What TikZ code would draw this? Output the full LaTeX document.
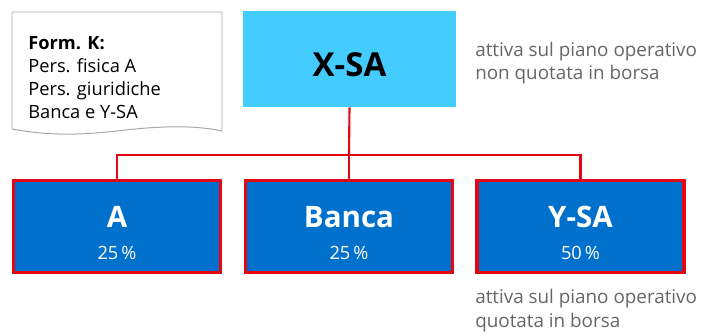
\documentclass[tikz,border=0pt]{standalone}
\usepackage{fontspec}
\setmainfont{Open Sans}
\usepackage{tikz}

\definecolor{boxblue}{HTML}{0070CD}
\definecolor{boxred}{HTML}{E30613}
\definecolor{topcyan}{HTML}{44CCFF}
\definecolor{notegray}{HTML}{666666}

\begin{document}
\begin{tikzpicture}
            [x=0.025cm, y=-0.025cm,
             comp/.style={shape=rectangle, draw=boxred, line width=2.2pt, fill=boxblue,
                          minimum width=5.175cm, minimum height=2.3cm, inner sep=0pt},
             title/.style={anchor=base, text=white, font=\fontsize{21}{24}\selectfont\bfseries},
             pct/.style={anchor=base, text=white, font=\fontsize{13}{15}\selectfont},
             note/.style={anchor=base west, align=left, inner sep=0pt, text=notegray,
                          font=\fontsize{13.4}{17}\selectfont},
             conn/.style={draw=boxred, line width=1.5pt}]
            \useasboundingbox (0,0) rectangle (701,334);

            % form sheet
            \draw[draw=gray!70, line width=0.7pt] (12,12) -- (222,12) -- (222,131)
                .. controls (190,124) and (150,127) .. (117,131)
                .. controls (80,135) and (50,136) .. (12,129) -- cycle;
            \node[anchor=north west, align=left, inner sep=0pt,
                  font=\fontsize{13}{16.5}\selectfont] (form) at (28,36)
                {\textbf{Form. K:}\\Pers. fisica A\\Pers. giuridiche\\Banca e Y-SA};

            % parent company
            \node[shape=rectangle, fill=topcyan, minimum width=5.325cm, minimum height=2.4cm,
                  inner sep=0pt] (xsa) at (349.5,59) {};
            \node[anchor=base, font=\fontsize{23.5}{26}\selectfont\bfseries] (xsatitle) at (349.5,77) {X-SA};
            \node[note] (xsanote) at (475,80) {attiva sul piano operativo\\non quotata in borsa};

            % shareholders
            \node[comp] (a) at (117,226.5) {};
            \node[comp] (banca) at (349,226.5) {};
            \node[comp] (ysa) at (580.5,226.5) {};
            \node[title] (atitle) at (117,227) {A};
            \node[pct] (apct) at (117,259) {25\,\%};
            \node[title] (bancatitle) at (349,227) {Banca};
            \node[pct] (bancapct) at (349,259) {25\,\%};
            \node[title] (ysatitle) at (580.5,227) {Y-SA};
            \node[pct] (ysapct) at (580.5,259) {50\,\%};
            \node[note] (ysanote) at (475,327) {attiva sul piano operativo\\quotata in borsa};

            \coordinate (bus) at (349,155);
            \path [conn] (xsa.south) -- (bus);
            \path [conn] (bus) -| (a.north);
            \path [conn] (bus) -| (ysa.north);
            \path [conn] (bus) -- (banca.north);
        \end{tikzpicture}
\end{document}
